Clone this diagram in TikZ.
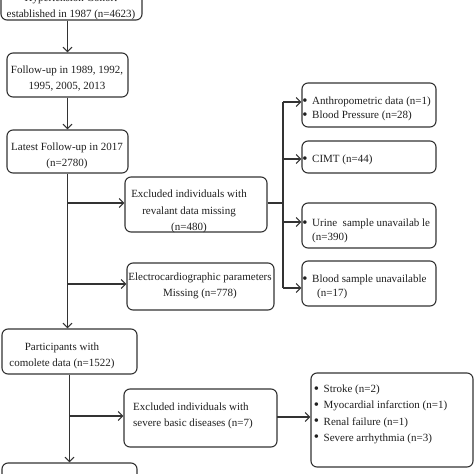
\documentclass[tikz,border=0pt]{standalone}
\usepackage{fontspec}
\setmainfont{Liberation Serif}
\usetikzlibrary{arrows.meta}
\newcommand\bul{\makebox[4.5pt][c]{\raisebox{-0.4pt}{\scalebox{1.35}{\textbullet}}}\hspace{5pt}}
\begin{document}
\begin{tikzpicture}[x=1pt,y=-1pt,
  font=\fontsize{11}{16}\selectfont,
  box/.style={draw=black!80,line width=1.1pt,rounded corners=6pt,inner sep=0pt,fill=white},
  txt/.style={inner sep=0pt,text=black!88},
  ctxt/.style={txt,align=center},
  ltxt/.style={txt,align=left,anchor=west},
  link/.style={draw=black!80,line width=1.1pt},
  arr/.style={link,-{Straight Barb[length=4.5pt,width=9pt]}}]
\useasboundingbox (0,0) rectangle (474,474);
\clip (0,0) rectangle (474,474);
\fill[white] (0,0) rectangle (474,474);
% boxes
\node[box,minimum width=141pt,minimum height=50pt] (top) at (71.5,-5) {};
\node[box,minimum width=121pt,minimum height=44pt] (b2) at (67.5,75) {};
\node[box,minimum width=121pt,minimum height=43pt] (b3) at (67.5,151.5) {};
\node[box,minimum width=142pt,minimum height=55pt] (ex1) at (196,204.5) {};
\node[box,minimum width=147pt,minimum height=47pt] (ex2) at (200.5,286.5) {};
\node[box,minimum width=134pt,minimum height=44pt] (rA) at (369,105) {};
\node[box,minimum width=134pt,minimum height=32pt] (rC) at (369,157) {};
\node[box,minimum width=134pt,minimum height=45pt] (rU) at (369,225.5) {};
\node[box,minimum width=134pt,minimum height=45pt] (rB) at (369,283.5) {};
\node[box,minimum width=135pt,minimum height=45pt] (p) at (69.5,351.5) {};
\node[box,minimum width=153pt,minimum height=58pt] (ex3) at (200.5,418) {};
\node[box,minimum width=162pt,minimum height=94pt] (dis) at (392,420) {};
\node[box,minimum width=135pt,minimum height=47pt] (fin) at (69.5,486.5) {};
% texts
\node[ctxt] (ttop) at (71,7) {Hypertension Cohort\\established in 1987 (n=4623)};
\node[ctxt] (tb2) at (67,79) {Follow-up in 1989, 1992,\\1995, 2005, 2013};
\node[ctxt] (tb3) at (67,156) {Latest Follow-up in 2017\\(n=2780)};
\node[ctxt] (tex1) at (189,211.5) {Excluded individuals with\\[0.5pt]revalant data missing\\[0.5pt](n=480)};
\node[ctxt] (tex2) at (200,286) {Electrocardiographic parameters\\Missing (n=778)};
\node[ltxt] (trA) at (302.5,109) {\bul Anthropometric data (n=1)\\[-2pt]\bul Blood Pressure (n=28)};
\node[ltxt] (trC) at (302.5,160) {\bul CIMT (n=44)};
\node[ltxt] (trU) at (302.5,231) {\bul Urine\ \ sample unavailab le\\[-2pt]\hphantom{\bul}(n=390)};
\node[ltxt] (trB) at (302.5,287) {\bul Blood sample unavailable\\[-2pt]\hphantom{\bul}\hspace{5pt}(n=17)};
\node[ctxt] (tp) at (62,356) {Participants with\\comolete data (n=1522)};
\node[ltxt] (tex3) at (133,416) {Excluded individuals with\\severe basic diseases (n=7)};
\node[ltxt] (tdis) at (314,414.5) {\bul Stroke (n=2)\\[0.3pt]\bul Myocardial infarction (n=1)\\[0.3pt]\bul Renal failure (n=1)\\[0.3pt]\bul Severe arrhythmia (n=3)};
% connectors
\draw[arr] (b2.north |- top.south) -- (b2.north);
\draw[arr] (b2.south) -- (b3.north);
\draw[arr] (b3.south) -- (b3.south |- p.north);
\coordinate (j1) at (67.5,203);
\coordinate (j2) at (67.5,284);
\draw[arr] (j1) -- (j1 -| ex1.west);
\draw[arr] (j2) -- (j2 -| ex2.west);
\coordinate (v1) at (283,102);
\coordinate (v2) at (283,159);
\coordinate (v3) at (283,222);
\coordinate (v4) at (283,288);
\draw[link] (ex1.east |- j1) -- (j1 -| v1);
\draw[link] (v1) -- (v4);
\draw[arr] (v1) -- (v1 -| rA.west);
\draw[arr] (v2) -- (v2 -| rC.west);
\draw[arr] (v3) -- (v3 -| rU.west);
\draw[arr] (v4) -- (v4 -| rB.west);
\draw[arr] (p.south) -- (p.south |- fin.north);
\coordinate (j3) at (69.5,416);
\draw[arr] (j3) -- (j3 -| ex3.west);
\coordinate (j4) at (277,417);
\draw[arr] (j4) -- (j4 -| dis.west);
\end{tikzpicture}
\end{document}
